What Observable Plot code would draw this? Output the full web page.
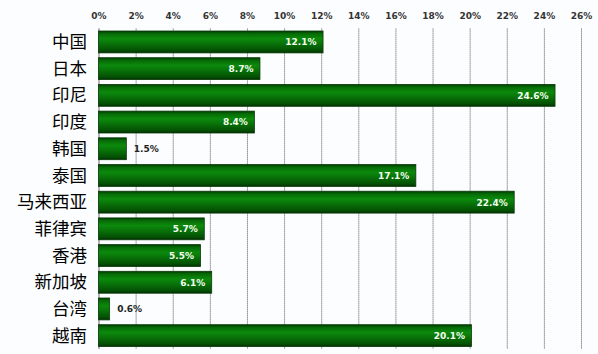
<!DOCTYPE html>
<html>
<head>
<meta charset="utf-8">
<script src="https://cdn.jsdelivr.net/npm/d3@7"></script>
<script src="https://cdn.jsdelivr.net/npm/@observablehq/plot@0.6"></script>
<style>
  html, body { margin: 0; padding: 0; background: #fcfdfe; }
  #chart { width: 598px; height: 354px; }
  svg { display: block; }
</style>
</head>
<body>
<div id="chart"></div>
<script>
const countries = ["中国", "日本", "印尼", "印度", "韩国", "泰国", "马来西亚", "菲律宾", "香港", "新加坡", "台湾", "越南"];
const shares = [12.1, 8.7, 24.6, 8.4, 1.5, 17.1, 22.4, 5.7, 5.5, 6.1, 0.6, 20.1];
const xTicks = [0, 2, 4, 6, 8, 10, 12, 14, 16, 18, 20, 22, 24, 26];

const data = countries.map((c, i) => ({country: c, value: shares[i], label: shares[i].toFixed(1) + "%"}));
const inside = data.filter(d => d.value >= 3);
const outside = data.filter(d => d.value < 3);

const chart = Plot.plot({
  width: 598,
  height: 354,
  marginLeft: 98.5,
  marginRight: 17,
  marginTop: 28.6,
  marginBottom: 5,
  style: {background: "transparent", fontFamily: "DejaVu Sans, Verdana, sans-serif"},
  x: {domain: [0, 26], axis: null, label: null},
  y: {domain: countries, paddingInner: 0.18, paddingOuter: 0.09, round: false, axis: null, label: null},
  marks: [
    Plot.ruleX(xTicks, {stroke: "#555", strokeWidth: 1, strokeDasharray: "1,1"}),
    Plot.ruleX([0], {stroke: "#999", strokeWidth: 1}),
    Plot.axisX(xTicks, {
      anchor: "top", tickSize: 0, tickPadding: 10, label: null,
      tickFormat: d => d + "%",
      fontSize: 9, fontWeight: "bold", fill: "#333"
    }),
    Plot.barX(data, {
      x: "value", y: "country",
      fill: "url(#barGrad)", stroke: "#0a3a0a", strokeWidth: 0.8
    }),
    Plot.text(inside, {
      x: "value", y: "country", text: "label",
      textAnchor: "end", dx: -7, fill: "#f4fff0",
      fontSize: 9, fontWeight: "bold"
    }),
    Plot.text(outside, {
      x: "value", y: "country", text: "label",
      textAnchor: "start", dx: 7, fill: "#222",
      fontSize: 9, fontWeight: "bold"
    }),
    Plot.axisY({
      anchor: "left", tickSize: 0, tickPadding: 12, label: null,
      fontSize: 17.5, fill: "#000",
      fontFamily: "Noto Sans CJK SC", fontWeight: "normal"
    })
  ]
});

const ns = "http://www.w3.org/2000/svg";
const defs = document.createElementNS(ns, "defs");
defs.innerHTML = `
  <linearGradient id="barGrad" x1="0" y1="0" x2="0" y2="1">
    <stop offset="0" stop-color="#003a00"/>
    <stop offset="0.12" stop-color="#066a06"/>
    <stop offset="0.35" stop-color="#0c8a0c"/>
    <stop offset="0.6" stop-color="#087008"/>
    <stop offset="0.88" stop-color="#045004"/>
    <stop offset="1" stop-color="#023002"/>
  </linearGradient>`;
chart.insertBefore(defs, chart.firstChild);
document.getElementById("chart").appendChild(chart);
</script>
</body>
</html>
